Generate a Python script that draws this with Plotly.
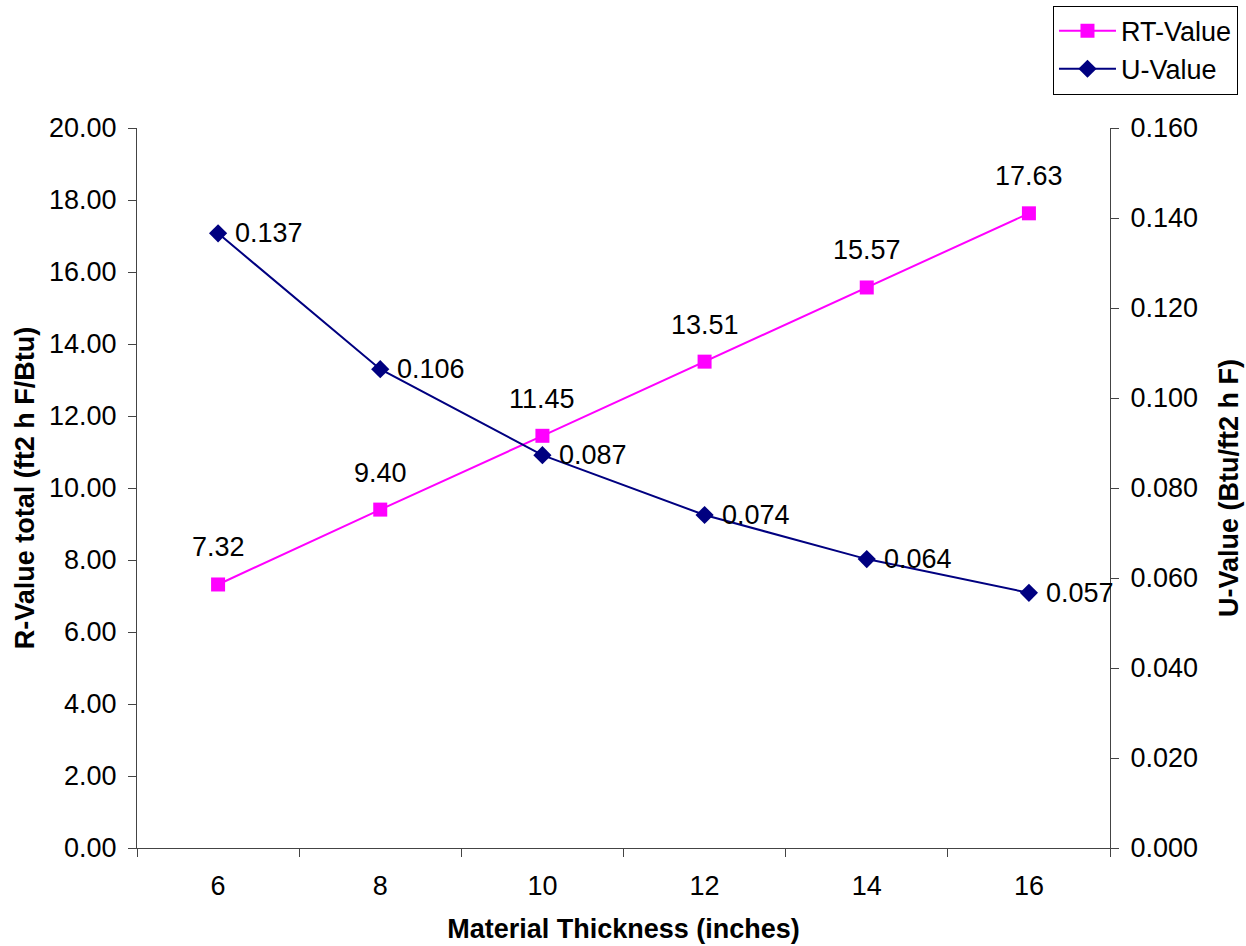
import plotly.graph_objects as go

thickness = ["6", "8", "10", "12", "14", "16"]
rt_values = [7.32, 9.40, 11.45, 13.51, 15.57, 17.63]
u_values = [0.1366, 0.1064, 0.0873, 0.0740, 0.0642, 0.0567]

FONT = "Liberation Sans, Arial, sans-serif"
FS = 27
MAG = "#FF00FF"
NAVY = "#000080"
AX = "#444444"

fig = go.Figure()
fig.add_trace(go.Scatter(
    x=thickness, y=rt_values, name="RT-Value", mode="lines+markers",
    line=dict(color=MAG, width=2),
    marker=dict(symbol="square", size=14, color=MAG),
    yaxis="y"))
fig.add_trace(go.Scatter(
    x=thickness, y=u_values, name="U-Value", mode="lines+markers",
    line=dict(color=NAVY, width=2),
    marker=dict(symbol="diamond", size=14, color=NAVY),
    yaxis="y2"))

ann = []
for i, yv in enumerate(rt_values):
    ann.append(dict(x=i, y=yv, xref="x", yref="y", text=f"{yv:.2f}",
                    showarrow=False, yshift=37, font=dict(size=FS, color="black", family=FONT)))
for i, yv in enumerate(u_values):
    ann.append(dict(x=i, y=yv, xref="x", yref="y2", text=f"{yv:.3f}",
                    showarrow=False, xanchor="left", xshift=15,
                    font=dict(size=FS, color="black", family=FONT)))

fig.update_layout(
    width=1246, height=946,
    margin=dict(l=137, r=136, t=128, b=98, autoexpand=False),
    paper_bgcolor="white", plot_bgcolor="white",
    font=dict(family=FONT, size=FS, color="black"),
    showlegend=True,
    legend=dict(x=0.9414, y=1.17, xanchor="left", yanchor="top",
                bordercolor="black", borderwidth=1, bgcolor="white",
                itemwidth=57,
                font=dict(size=FS, family=FONT), tracegroupgap=0),
    xaxis=dict(type="category", tickson="boundaries", ticks="outside", ticklen=8,
               range=[-0.5, 5.5], autorange=False, ticklabelstandoff=14,
               tickcolor=AX, showline=True, linecolor=AX, linewidth=1,
               showgrid=False, zeroline=False,
               title=dict(text="<b>Material Thickness (inches)</b>", font=dict(size=FS), standoff=18),
               tickfont=dict(size=FS)),
    yaxis=dict(range=[0, 20], dtick=2, tickformat=".2f", ticks="outside", ticklen=8,
               tickcolor=AX, showline=True, linecolor=AX, linewidth=1,
               showgrid=False, zeroline=False, ticklabelstandoff=6,
               title=dict(text="<b>R-Value total (ft2 h F/Btu)</b>", font=dict(size=FS), standoff=6),
               tickfont=dict(size=FS)),
    yaxis2=dict(range=[0, 0.16], dtick=0.02, tickformat=".3f", ticks="outside", ticklen=8,
                tickcolor=AX, showline=True, linecolor=AX, linewidth=1,
                showgrid=False, zeroline=False, overlaying="y", side="right",
                ticklabelstandoff=6,
                title=dict(text="<b>U-Value (Btu/ft2 h F)</b>", font=dict(size=FS), standoff=22),
                tickfont=dict(size=FS)),
    annotations=ann,
)

fig.write_html("out.html")
